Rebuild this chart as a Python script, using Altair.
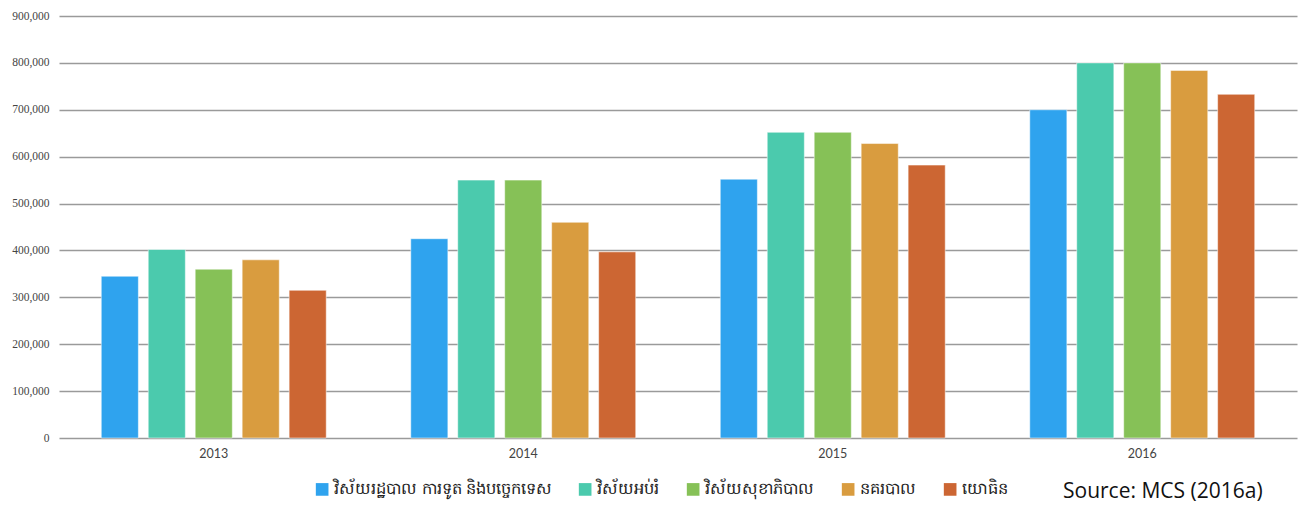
import altair as alt
import pandas as pd

years = ["2013", "2014", "2015", "2016"]
series = [
    "វិស័យរដ្ឋបាល ការទូត និងបច្ចេកទេស",
    "វិស័យអប់រំ",
    "វិស័យសុខាភិបាល",
    "នគរបាល",
    "យោធិន",
]
colors = ["#2FA3EE", "#4BCAAD", "#86C157", "#D99C3F", "#CC6633"]
admin = [345000, 425000, 552000, 700000]
education = [402000, 550000, 652000, 800000]
health = [360000, 550000, 652000, 800000]
police = [380000, 460000, 628000, 784000]
military = [315000, 397000, 582000, 733000]
y_ticks = [0, 100000, 200000, 300000, 400000, 500000, 600000, 700000, 800000, 900000]
source_text = "Source: MCS (2016a)"

rows = []
for name, vals in zip(series, [admin, education, health, police, military]):
    for yr, v in zip(years, vals):
        rows.append({"year": yr, "series": name, "value": v})
df = pd.DataFrame(rows)

bars = alt.Chart(df).mark_bar(stroke="white", strokeOpacity=0.5, strokeWidth=1).encode(
    x=alt.X("year:N", sort=years, title=None,
            scale=alt.Scale(paddingInner=0, paddingOuter=0),
            axis=alt.Axis(labelAngle=0, labelFont="Lato", labelFontSize=12.5,
                          labelColor="#444", ticks=False, domain=False,
                          labelPadding=9)),
    xOffset=alt.XOffset("series:N", sort=series,
                        scale=alt.Scale(paddingInner=0.21, paddingOuter=0.9)),
    y=alt.Y("value:Q", title=None,
            scale=alt.Scale(domain=[0, 900000], nice=False),
            axis=alt.Axis(values=y_ticks, format=",.0f", labelFont="Liberation Serif",
                          labelFontSize=11.5, labelColor="#444", ticks=False,
                          domain=False, gridColor="#9a9a9a", gridWidth=1.5,
                          labelPadding=10)),
    color=alt.Color("series:N", sort=series,
                    scale=alt.Scale(domain=series, range=colors),
                    legend=alt.Legend(title=None, orient="none", direction="horizontal",
                                      legendX=255, legendY=465, symbolType="square",
                                      symbolSize=160, symbolStrokeWidth=0,
                                      labelFontSize=16.3, labelColor="#222",
                                      labelFont="Noto Sans", columnPadding=25,
                                      labelLimit=500,
                                      symbolOffset=0, labelOffset=4)),
)

src = alt.Chart(pd.DataFrame({"t": [source_text]})).mark_text(
    font="Open Sans", fontSize=21, color="#111", align="left", baseline="alphabetic"
).encode(x=alt.value(1004), y=alt.value(482), text="t:N")

chart = alt.layer(bars, src).properties(
    width=1238, height=422,
    padding={"left": 59, "top": 16, "right": 12, "bottom": 69},
    autosize=alt.AutoSizeParams(type="none"),
).configure_view(stroke=None).configure_axis(labelFontWeight="normal")

chart.save("out.html", embed_options={"renderer": "svg", "actions": False})
